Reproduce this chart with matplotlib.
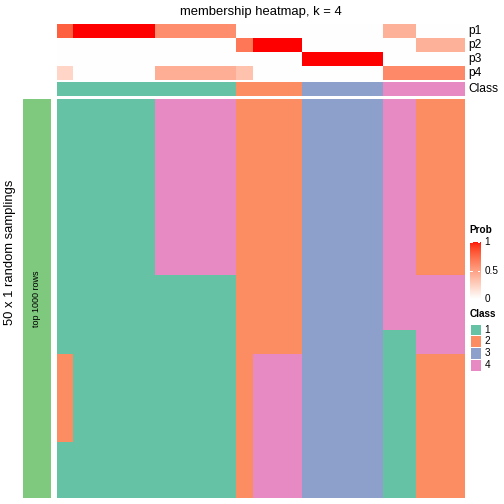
import numpy as np
import matplotlib
matplotlib.use("Agg")
import matplotlib.pyplot as plt
from matplotlib.colors import ListedColormap
from matplotlib.patches import Rectangle

plt.rcParams['font.family'] = ['Liberation Sans', 'DejaVu Sans']

# ---------------- data ----------------
title = "membership heatmap, k = 4"
row_title = "50 x 1 random samplings"
bar_label = "top 1000 rows"
n_samplings = 50

class_labels = ["1", "2", "3", "4"]
class_colors = ["#66C2A5", "#FC8D62", "#8DA0CB", "#E78AC3"]

# membership probabilities per sample (25 samples)
p1 = [0.78, 1, 1, 1, 1, 1, 0.58, 0.58, 0.58, 0.58, 0.58, 0, 0, 0, 0,
      0, 0, 0, 0, 0, 0.4, 0.4, 0, 0, 0]
p2 = [0, 0, 0, 0, 0, 0, 0, 0, 0, 0, 0, 0.68, 1, 1, 1,
      0, 0, 0, 0, 0, 0, 0, 0.4, 0.4, 0.4]
p3 = [0, 0, 0, 0, 0, 0, 0, 0, 0, 0, 0, 0, 0, 0, 0,
      1, 1, 1, 1, 1, 0, 0, 0, 0, 0]
p4 = [0.22, 0, 0, 0, 0, 0, 0.42, 0.42, 0.42, 0.42, 0.42, 0.32, 0, 0, 0,
      0, 0, 0, 0, 0, 0.6, 0.6, 0.6, 0.6, 0.6]
sample_class = [1] * 11 + [2] * 4 + [3] * 5 + [4] * 5

# class label of each sample in each of the 50 samplings, as (class, run length) from top
sampling_runs = (
    [[(1, 32), (2, 11), (1, 7)]]
    + [[(1, 50)]] * 5
    + [[(4, 22), (1, 28)]] * 5
    + [[(2, 50)]]
    + [[(2, 32), (4, 18)]] * 3
    + [[(3, 50)]] * 5
    + [[(4, 29), (1, 21)]] * 2
    + [[(2, 22), (4, 10), (2, 18)]] * 3
)

# ---------------- helpers ----------------
def lab_to_rgb(L, a, b):
    fy = (L + 16) / 116.0
    fx = fy + a / 500.0
    fz = fy - b / 200.0
    def finv(t):
        return np.where(t ** 3 > 0.008856, t ** 3, (t - 16 / 116.0) / 7.787)
    X = 0.95047 * finv(fx)
    Y = 1.0 * finv(fy)
    Z = 1.08883 * finv(fz)
    r = 3.2406 * X - 1.5372 * Y - 0.4986 * Z
    g = -0.9689 * X + 1.8758 * Y + 0.0415 * Z
    bb = 0.0557 * X - 0.2040 * Y + 1.0570 * Z
    out = []
    for c in (r, g, bb):
        c = np.clip(c, 0, 1)
        c = np.where(c > 0.0031308, 1.055 * c ** (1 / 2.4) - 0.055, 12.92 * c)
        out.append(np.clip(c, 0, 1))
    return np.stack(out, axis=-1)

t = np.linspace(0, 1, 256)
white_lab = np.array([100.0, 0.0, 0.0])
red_lab = np.array([53.24, 80.09, 67.20])
labs = white_lab[None, :] + t[:, None] * (red_lab - white_lab)[None, :]
prob_cmap = ListedColormap(lab_to_rgb(labs[:, 0], labs[:, 1], labs[:, 2]))
class_cmap = ListedColormap(class_colors)

W = H = 504.0
fig = plt.figure(figsize=(7, 7), dpi=72)

def ax_px(x0, y0, x1, y1):
    ax = fig.add_axes([x0 / W, 1 - y1 / H, (x1 - x0) / W, (y1 - y0) / H])
    ax.set_axis_off()
    return ax

hx0, hx1 = 57, 465
n = len(p1)

# probability annotation
ax_p = ax_px(hx0, 24, hx1, 80)
P = np.array([p1, p2, p3, p4])
ax_p.imshow(P, cmap=prob_cmap, vmin=0, vmax=1, aspect='auto', interpolation='nearest')

# class annotation
ax_c = ax_px(hx0, 82, hx1, 96)
ax_c.imshow(np.array([sample_class]), cmap=class_cmap, vmin=0.5, vmax=4.5,
            aspect='auto', interpolation='nearest')

# main heatmap
M = np.zeros((n_samplings, n), dtype=int)
for j, runs in enumerate(sampling_runs):
    vals = []
    for c, k in runs:
        vals += [c] * k
    M[:, j] = vals
ax_m = ax_px(hx0, 99, hx1, 498)
ax_m.imshow(M, cmap=class_cmap, vmin=0.5, vmax=4.5, aspect='auto', interpolation='nearest')

# left bar
ax_l = ax_px(22.7, 99, 51, 498)
ax_l.add_patch(Rectangle((0, 0), 1, 1, color="#7FC97F", transform=ax_l.transAxes))
ax_l.text(0.5, 0.5, bar_label, rotation=90, ha='center', va='center', fontsize=9,
          transform=ax_l.transAxes)

# texts
fig.text(261 / W, 1 - 12 / H, title, ha='center', va='center', fontsize=13)
fig.text(10 / W, 1 - 252 / H, row_title, ha='center', va='center', rotation=90, fontsize=13)
for i, lab in enumerate(["p1", "p2", "p3", "p4"]):
    fig.text(468 / W, 1 - (31 + 14 * i) / H, lab, ha='left', va='center', fontsize=12)
fig.text(468 / W, 1 - 89 / H, "Class", ha='left', va='center', fontsize=12)

# probability legend
fig.text(469.5 / W, 1 - 230 / H, "Prob", ha='left', va='center', fontsize=10, fontweight='bold')
ax_cb = ax_px(469.5, 241.5, 479.5, 299.5)
ax_cb.imshow(np.linspace(1, 0, 200)[:, None], cmap=prob_cmap, vmin=0, vmax=1,
             aspect='auto', extent=(0, 1, 0, 1))
ax_cb.set_xlim(0, 1)
ax_cb.set_ylim(0, 1)
for v, lab in [(1, "1"), (0.5, "0.5"), (0, "0")]:
    ax_cb.plot([0, 0.2], [v, v], color='white', lw=1)
    ax_cb.plot([0.8, 1], [v, v], color='white', lw=1)
    fig.text(484.5 / W, 1 - (299.5 - v * 58) / H, lab, ha='left', va='center', fontsize=10)

# class legend
fig.text(469.5 / W, 1 - 314 / H, "Class", ha='left', va='center', fontsize=10, fontweight='bold')
box_h = 11.7
for i, (lab, col) in enumerate(zip(class_labels, class_colors)):
    y0 = 323.7 + i * box_h
    fig.patches.append(Rectangle((469.5 / W, 1 - (y0 + box_h) / H), 11 / W, box_h / H,
                                 facecolor=col, edgecolor='white', lw=1,
                                 transform=fig.transFigure, figure=fig))
    fig.text(484.5 / W, 1 - (y0 + box_h / 2) / H, lab, ha='left', va='center', fontsize=10)

fig.savefig("out.png", dpi=72)
